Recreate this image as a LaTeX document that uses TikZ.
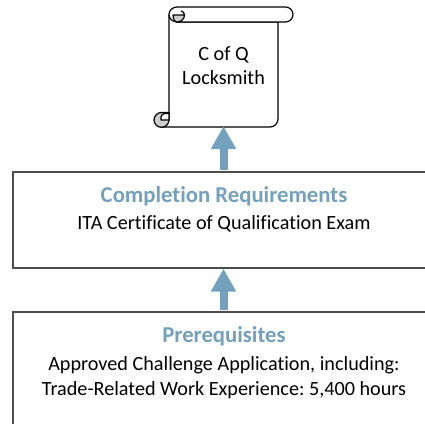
\documentclass[tikz,border=0pt]{standalone}
\usepackage{fontspec}
\setmainfont{Carlito}[Ligatures=NoCommon]
\frenchspacing
\usetikzlibrary{arrows.meta}
\definecolor{arrowblue}{HTML}{73A1BD}
\definecolor{boxline}{HTML}{4D4D4D}
\definecolor{curlgrey}{HTML}{CDCDCD}
\tikzset{
  reqbox/.style={draw=boxline,line width=1.7pt,fill=white,minimum width=440pt,inner sep=0pt,anchor=north west},
  heading/.style={text=arrowblue,font=\fontsize{22.7pt}{27pt}\selectfont\bfseries,inner sep=0pt},
  bodytext/.style={font=\fontsize{20.2pt}{25pt}\selectfont,inner sep=0pt,align=center},
  upflow/.style={draw=arrowblue,line width=8pt,-{Triangle[width=24pt,length=23pt,fill=arrowblue]},shorten <=0.6pt},
  scrolline/.style={draw=black,line width=1.2pt,line join=round},
}
\begin{document}
\begin{tikzpicture}[x=1pt,y=-1pt]
\useasboundingbox (0,0) rectangle (425,423);
\node[reqbox,minimum height=96pt] (completion) at (12,171) {};
\node[reqbox,minimum height=130pt] (prereq) at (12,311) {};
\node[heading] (comphead) at (224,196) {Completion Requirements};
\node[bodytext] (comptext) at (224,224) {ITA Certificate of Qualification Exam};
\node[heading] (prehead) at (224,336) {Prerequisites};
\node[bodytext] (pretext) at (224,377.5) {Approved Challenge Application, including:\\Trade-Related Work Experience: 5,400 hours};
% scroll body and top roll
\path[scrolline,fill=white] (169,15) -- (169,120) -- (161.5,127) -- (270,127)
  .. controls (274.4,127) and (278,123.4) .. (278,119) -- (278,22) -- (177,22) -- cycle;
\path[scrolline,fill=white] (177,7) -- (285.5,7)
  .. controls (289.6,7) and (293,10.4) .. (293,14.5)
  .. controls (293,18.6) and (289.6,22) .. (285.5,22) -- (177,22)
  .. controls (172.6,22) and (169,18.6) .. (169,14.5)
  .. controls (169,10.4) and (172.6,7) .. (177,7) -- cycle;
% top-left curl
\path[scrolline,fill=curlgrey] (173,15) -- (184.5,15)
  .. controls (184.5,19) and (181,22) .. (177,22)
  .. controls (175,22) and (173,19) .. (173,15) -- cycle;
\path[scrolline] (184.5,15) .. controls (184.5,13) and (183,11.5) .. (181,11);
% bottom-left curl
\path[scrolline,fill=curlgrey] (161.5,112.5)
  .. controls (157.4,112.5) and (154,115.8) .. (154,120)
  .. controls (154,124) and (157.4,127.3) .. (161.5,127.3)
  .. controls (165.6,127.3) and (169,124) .. (169,120) -- (169,112.5) -- cycle;
\path[scrolline,fill=white] (169,120) -- (161,120) -- (161,117)
  .. controls (161,115) and (163,113.5) .. (165,113.5) -- (169,113.5) -- cycle;
\node[minimum width=109pt,minimum height=120pt,inner sep=0pt] (scroll) at (223.5,67) {};
\node[bodytext,font=\fontsize{20.2pt}{24pt}\selectfont] (scrolltext) at (223.5,66) {C of Q\\Locksmith};
\draw[upflow] (completion.north -| scroll.south) -- ([yshift=1pt]scroll.south);
\draw[upflow] (prereq.north -| scroll.south) -- ([yshift=0pt]completion.south -| scroll.south);
\end{tikzpicture}
\end{document}
